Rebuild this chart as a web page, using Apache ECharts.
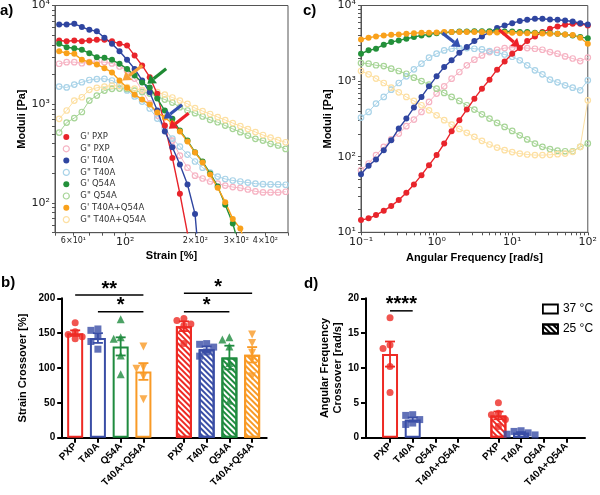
<!DOCTYPE html>
<html><head><meta charset="utf-8">
<script src="https://cdn.jsdelivr.net/npm/echarts@6/dist/echarts.min.js"></script>
<style>html,body{margin:0;padding:0;background:#fff}#c{width:600px;height:495px}</style>
</head><body><div id="c"></div>
<script>
// ---------- DATA ----------
// panel a: strain sweep
const strain = [52.1,56.1,60.5,65.2,70.2,75.6,81.5,87.8,94.6,101.9,109.8,118.3,127.5,137.4,148,159.5,171.8,185.2,199.5,215,231.6,249.6,268.9,289.7,312.2,336.4,362.4,390.5,420.8,453.4,488.5];
const aGp_PXP  = [4420,4350,4420,4350,4420,4490,4490,4350,4090,3930,3110,2470,1880,1275,608,286,124,49.3,20];
const aGpp_PXP = [2570,2670,2670,2600,2670,2670,2670,2590,2410,2200,1820,1380,1020,768,594,429,302,228,189,177,165,157,150,145,142,137,131,128,128,128,130];
const aGp_T40  = [6420,6420,6530,6060,5670,5490,4710,4090,3440,2820,2280,1740,1320,864,529,367,245,154,77.5,10];
const aGpp_T40 = [1510,1480,1580,1670,1760,1800,1810,1740,1580,1380,1200,1065,905,716,567,449,373,309,263,228,203,185,175,169,165,161,157,155,154,154,153];
const aGp_Q54  = [4090,3780,3690,3560,3290,2990,2950,2820,2570,2280,1950,1660,1480,1140,864,711,541,429,326,263,199,147,96,62,33];
const aGpp_Q54 = [517,652,725,834,1090,1225,1376,1432,1442,1426,1376,1329,1283,1197,1116,1040,932,864,811,751,695,657,608,563,521,482,446,429,397,382,353];
const aGp_MIX  = [3440,3290,3240,2820,2670,2530,2320,2100,1740,1470,1250,1120,993,824,733,638,529,419,324,257,194,143,102,69,55,33];
const aGpp_MIX = [711,864,1090,1177,1399,1466,1511,1547,1529,1494,1442,1393,1376,1329,1250,1170,1090,1010,915,853,796,742,692,645,601,561,523,488,460,434,412];
// panel c: frequency sweep
const freq = [0.1,0.126,0.158,0.2,0.251,0.316,0.398,0.501,0.631,0.794,1,1.26,1.58,2,2.51,3.16,3.98,5.01,6.31,7.94,10,12.6,15.8,20,25.1,31.6,39.8,50.1,63.1,79.4,100];
const cGp_PXP  = [14.5,15.3,16.9,19.3,22.2,26.7,33.4,43,57,77.3,105,149,217,304,420,586,795,1044,1416,1823,2302,2735,3382,3898,4446,4920,5283,5557,5729,5729,5445];
const cGpp_PXP = [66.4,81.3,105,135,169,202,253,310,391,530,683,853,1077,1319,1615,1918,2188,2422,2599,2735,2762,2762,2735,2680,2599,2422,2302,2123,1990,1840,2050];
const cGp_T40  = [58.8,75.8,91.9,122,165,236,319,446,617,853,1156,1535,1880,2373,2819,3382,3898,4446,5022,5445,5846,6214,6468,6668,6668,6534,6468,6339,6149,5846,5614];
const cGpp_T40 = [329,391,504,617,771,944,1156,1430,1699,2039,2302,2547,2680,2735,2735,2680,2626,2496,2370,2250,2100,1880,1615,1388,1228,1044,963,879,819,755,1024];
const cGp_Q54  = [2300,2550,2680,3030,3280,3450,3630,3820,4020,4140,4310,4360,4450,4540,4540,4580,4580,4580,4580,4540,4540,4450,4450,4360,4360,4310,4230,4140,4020,3820,3700];
const cGpp_Q54 = [1730,1700,1620,1580,1460,1360,1250,1110,1000,897,795,697,617,546,479,420,364,319,280,248,219,192,169,149,135,126,120,118,118,135,150];
const cGp_MIX  = [3560,3740,3900,4020,4100,4140,4230,4310,4360,4360,4400,4450,4450,4450,4450,4450,4450,4400,4400,4360,4360,4310,4310,4310,4270,4230,4230,4140,4060,3740,3120];
const cGpp_MIX = [1360,1230,1080,944,819,711,617,546,479,411,353,304,266,233,207,183,162,145,132,122,115,110,107,105,105,106,108,110,116,135,557];
const seriesNames = ["G' PXP","G\" PXP","G' T40A","G\" T40A","G' Q54A","G\" Q54A","G' T40A+Q54A","G\" T40A+Q54A"];
// tick labels
const strainTickValues = [60,100,200,300,400];
const strainTickLabels = ['6×10¹','10²','2×10²','3×10²','4×10²'];
// arrows [x0,y0,x1(tip),y1]
const arrowsA = [[118.6,2467,97.5,1739],[150,2284,124.5,1609],[175.5,986,146.6,711],[187.3,811,153.9,563]];
const arrowsC = [[1.196,4312,2.07,2818],[6.72,4779,12.6,2818]];
// panel b / d
const groups = ['PXP','T40A','Q54A','T40A+Q54A'];
const b37 = [150,143,131,95], b37sem = [4,7,13,12];
const b25 = [160,127,115,119], b25sem = [7,4,17,11];
const b37pts = [[165,152,148,145,142],[156,154,145,138,127],[170,144,142,118,91],[131,101,99,88,55]];
const b25pts = [[171,168,163,161,135],[135,134,130,123,117],[144,141,131,107,53],[148,136,122,112,88]];
const d37 = [12.0,2.6,null,null], d37sem = [1.8,0.3,null,null];
const d25 = [3.2,0.7,null,null], d25sem = [0.55,0.1,null,null];
const d37pts = [[17.2,13.3,12.8,10.2,6.5],[3.3,3.2,2.6,2.1,1.9],[],[]];
const d25pts = [[5.0,3.5,3.3,2.6,1.6],[1.0,0.9,0.7,0.5,0.4],[],[]];
const sigB = [[0,3,204.7,'**'],[1,3,180.8,'*'],[4,7,207.2,'*'],[4,6,180.8,'*']];
const sigD = [[0,1,18.2,'****']];
const tempNames = ['37 °C','25 °C'];

// ---------- LAYOUT / STYLE ----------
const slotX = [0,1,2,3,4.78,5.78,6.78,7.78];
const dark = ['#e8242b','#2f45a0','#23903a','#f9a11b'];
const light = ['#f6b3c3','#a9d3e8','#a7d597','#fde0a3'];
const barCol = ['#ee2a24','#3a4ea6','#1f8b3f','#f99a26'];
const SYM = ['circle','rect','triangle','triangle'];
const SUP = {'-':'⁻','0':'⁰','1':'¹','2':'²','3':'³','4':'⁴','5':'⁵','6':'⁶','7':'⁷','8':'⁸','9':'⁹'};
const pow10 = v => { const e = Math.round(Math.log10(v)); if (Math.abs(Math.log10(v)-e) > 0.01) return ''; return '10' + String(e).split('').map(c=>SUP[c]).join(''); };
function logTicks(lo, hi){ const t=[]; for(let e=-2;e<5;e++){ for(let m=1;m<10;m++){ const v=m*Math.pow(10,e); if(v>=lo*0.999&&v<=hi*1.001) t.push(+v.toPrecision(3)); } } return t; }
const axFont = {fontFamily:'DejaVu Sans', color:'#222'};
const nameStyle = {fontFamily:'Liberation Sans', fontWeight:'bold', fontSize:11, color:'#000'};

function mk(name, xs, ys, color, filled, gi){
  return {type:'line', name, xAxisIndex:gi, yAxisIndex:gi, data: ys.map((v,i)=>[xs[i],v]),
    symbol:'circle', symbolSize: filled?6:5.5, clip:true, silent:true,
    lineStyle:{color, width: filled?1.4:1},
    itemStyle: filled?{color}:{color:'rgba(255,255,255,0)', borderColor:color, borderWidth:1.2},
    z: filled?4:3};
}
const aSets = [[aGp_PXP,aGpp_PXP],[aGp_T40,aGpp_T40],[aGp_Q54,aGpp_Q54],[aGp_MIX,aGpp_MIX]];
const cSets = [[cGp_PXP,cGpp_PXP],[cGp_T40,cGpp_T40],[cGp_Q54,cGpp_Q54],[cGp_MIX,cGpp_MIX]];
const series = [];
[[aSets,strain,0],[cSets,freq,1]].forEach(([sets,xs,gi])=>{
  sets.forEach((s,k)=>series.push(mk(seriesNames[2*k+1], xs, s[1], light[k], false, gi)));
  sets.forEach((s,k)=>series.push(mk(seriesNames[2*k], xs, s[0], dark[k], true, gi)));
});

const hatch = c => ({symbol:'rect', symbolSize:1, dashArrayX:[1,0], dashArrayY:[1.5,1.7], rotation:Math.PI/4, color:c});
function swarm(vals, thr){ const placed=[]; const order=[0,-1,1,-2,2,-3,3];
  return vals.map(v=>{ const near=placed.filter(p=>Math.abs(p.v-v)<thr).map(p=>p.k); let k=0; for(const o of order){ if(!near.includes(o)){k=o;break;} } placed.push({v,k}); return k*7; }); }
function barPanel(gi, m37, s37, p37, m25, s25, p25, thr){
  const mkBars = (means, off, hatched) => means.map((v,g)=> v==null?null:{value:[slotX[g+off], v],
      itemStyle: hatched?{color:'#fff', borderColor:barCol[g], borderWidth:2, decal:hatch(barCol[g])}:{color:'#fff', borderColor:barCol[g], borderWidth:2}}).filter(x=>x);
  series.push({type:'bar', name:tempNames[0], xAxisIndex:gi, yAxisIndex:gi, barWidth:16, barGap:'-100%', data: mkBars(m37,0,false), z:2, silent:true});
  series.push({type:'bar', name:tempNames[1], xAxisIndex:gi, yAxisIndex:gi, barWidth:16, barGap:'-100%', data: mkBars(m25,4,true), z:2, silent:true});
  const err = [];
  [[m37,s37,0],[m25,s25,4]].forEach(([m,s,off])=>m.forEach((v,g)=>{ if(v!=null) err.push([slotX[g+off], v, s[g], g]); }));
  series.push({type:'custom', xAxisIndex:gi, yAxisIndex:gi, data: err, z:4, silent:true, clip:false,
    renderItem:(p,api)=>{ const x=api.value(0), m=api.value(1), s=api.value(2), col=barCol[api.value(3)];
      const t=api.coord([x,m+s]), b=api.coord([x,m-s]), hw=5, st={stroke:col, lineWidth:1.8};
      return {type:'group', children:[
        {type:'line', shape:{x1:t[0],y1:t[1],x2:b[0],y2:b[1]}, style:st},
        {type:'line', shape:{x1:t[0]-hw,y1:t[1],x2:t[0]+hw,y2:t[1]}, style:st},
        {type:'line', shape:{x1:b[0]-hw,y1:b[1],x2:b[0]+hw,y2:b[1]}, style:st}]}; }});
  const pts = [];
  [[p37,0],[p25,4]].forEach(([sets,off])=>sets.forEach((vals,g)=>{ const o=swarm(vals,thr);
    vals.forEach((v,k)=>pts.push({value:[slotX[g+off], v], symbol:SYM[g], symbolRotate:g===3?180:0,
      symbolSize: g>=2?8:7, symbolOffset:[o[k],0], itemStyle:{color:barCol[g]}})); }));
  series.push({type:'scatter', xAxisIndex:gi, yAxisIndex:gi, data: pts, z:5, silent:true});
}
barPanel(2, b37,b37sem,b37pts, b25,b25sem,b25pts, 10);
barPanel(3, d37,d37sem,d37pts, d25,d25sem,d25pts, 1.0);

const catFmt = v => { const i = slotX.findIndex(s=>Math.abs(s-v)<1e-3); return i<0?'':groups[i%4]; };
function barX(gi, min, max){ return {type:'value', gridIndex:gi, min, max, splitLine:{show:false},
  axisLine:{show:true, onZero:false, lineStyle:{color:'#000', width:2}},
  axisTick:{show:true, customValues:slotX, length:5, lineStyle:{color:'#000', width:2}},
  axisLabel:{customValues:slotX, formatter:catFmt, rotate:45, margin:7, fontFamily:'Liberation Sans', fontWeight:'bold', fontSize:10, color:'#000'}}; }
function barY(gi, max, interval, name, gap){ return {type:'value', gridIndex:gi, min:0, max, interval, splitLine:{show:false},
  axisLine:{show:true, onZero:false, lineStyle:{color:'#000', width:2}},
  axisTick:{show:true, length:5, lineStyle:{color:'#000', width:2}},
  axisLabel:{margin:7, fontFamily:'Liberation Sans', fontWeight:'bold', fontSize:10, color:'#000'},
  name, nameLocation:'middle', nameGap:gap, nameTextStyle:Object.assign({lineHeight:13}, nameStyle)}; }

const logLine = {show:true, onZero:false, lineStyle:{color:'#555', width:1}};
const option = {
  animation:false,
  grid:[
    {left:55, top:5, width:233, height:227.7, show:true, borderColor:'#555', borderWidth:1},
    {left:361, top:5, width:231, height:227.3, show:true, borderColor:'#555', borderWidth:1},
    {left:62.2, top:298.3, width:204.5, height:139.4},
    {left:366, top:298.3, width:219, height:139.4}],
  xAxis:[
    {type:'log', gridIndex:0, min:50, max:500, splitLine:{show:false}, axisLine:logLine,
      axisTick:{show:true, customValues:logTicks(50,500), length:3, lineStyle:{color:'#555'}},
      axisLabel:{customValues:strainTickValues, margin:4,
        formatter:v=>{ const i=strainTickValues.findIndex(t=>Math.abs(Math.log10(t/v))<0.01); if(i<0) return ''; return strainTickValues[i]===100?'{b|'+strainTickLabels[i]+'}':'{s|'+strainTickLabels[i]+'}'; },
        rich:{b:Object.assign({fontSize:11},axFont), s:Object.assign({fontSize:8},axFont)}},
      name:'Strain [%]', nameLocation:'middle', nameGap:18, nameTextStyle:nameStyle},
    {type:'log', gridIndex:1, min:0.1, max:100, splitLine:{show:false}, axisLine:logLine,
      axisTick:{show:true, customValues:logTicks(0.1,100), length:3, lineStyle:{color:'#555'}},
      axisLabel:Object.assign({customValues:[0.1,1,10,100], formatter:pow10, fontSize:11, margin:4}, axFont),
      name:'Angular Frequency [rad/s]', nameLocation:'middle', nameGap:20, nameTextStyle:nameStyle},
    barX(2, -0.57, 8.42), barX(3, -1.06, 8.6)],
  yAxis:[
    {type:'log', gridIndex:0, min:50, max:10000, splitLine:{show:false}, axisLine:logLine,
      axisTick:{show:true, customValues:logTicks(50,10000), length:3, lineStyle:{color:'#555'}},
      axisLabel:Object.assign({customValues:[100,1000,10000], formatter:pow10, fontSize:11, margin:5}, axFont),
      name:'Moduli [Pa]', nameLocation:'middle', nameGap:26, nameTextStyle:nameStyle},
    {type:'log', gridIndex:1, min:10, max:10000, splitLine:{show:false}, axisLine:logLine,
      axisTick:{show:true, customValues:logTicks(10,10000), length:3, lineStyle:{color:'#555'}},
      axisLabel:Object.assign({customValues:[10,100,1000,10000], formatter:pow10, fontSize:11, margin:5}, axFont),
      name:'Moduli [Pa]', nameLocation:'middle', nameGap:26, nameTextStyle:nameStyle},
    barY(2, 200, 50, 'Strain Crossover [%]', 33),
    barY(3, 20, 5, 'Angular Frequency\nCrossover [rad/s]', 16)],
  legend:[
    {left:62.7, top:132.5, padding:0, orient:'vertical', itemWidth:6, itemHeight:6, itemGap:2.8, icon:'circle', selectedMode:false,
      formatter:'{t|{name}}',
      textStyle:{fontFamily:'DejaVu Sans', fontSize:8.5, color:'#333', rich:{t:{fontFamily:'DejaVu Sans', fontSize:8.5, color:'#333', lineHeight:9, padding:[0,0,0,6]}}},
      data: seriesNames.map((n,i)=>({name:n, itemStyle: i%2===0?{color:dark[i>>1], borderWidth:0}:{color:'#fff', borderColor:light[i>>1], borderWidth:1.2}}))},
    {left:542, top:303, padding:0, orient:'vertical', itemWidth:15, itemHeight:9, itemGap:8, icon:'rect', selectedMode:false,
      textStyle:{fontFamily:'Liberation Sans', fontSize:12, color:'#000'},
      data:[{name:tempNames[0], itemStyle:{color:'#fff', borderColor:'#000', borderWidth:1.8}},
            {name:tempNames[1], itemStyle:{color:'#fff', borderColor:'#000', borderWidth:1.8, decal:hatch('#000')}}]}],
  series
};
const chart = echarts.init(document.getElementById('c'), null, {renderer:'canvas'});
chart.setOption(option);

// ---------- annotations via library coordinates ----------
const els = [];
const lab = (t,x,y)=>els.push({type:'text', x, y, z:100, style:{text:t, fontFamily:'Liberation Sans', fontWeight:'bold', fontSize:15, fill:'#000'}});
lab('a)',0,3); lab('c)',303,3); lab('b)',1,275); lab('d)',304,276);
function arrow(gi, a, color){
  const p0 = chart.convertToPixel({gridIndex:gi}, [a[0],a[1]]), p1 = chart.convertToPixel({gridIndex:gi}, [a[2],a[3]]);
  const dx=p1[0]-p0[0], dy=p1[1]-p0[1], L=Math.hypot(dx,dy), ux=dx/L, uy=dy/L, hl=8, hw=5.5;
  const bx=p1[0]-ux*hl, by=p1[1]-uy*hl;
  els.push({type:'line', z:100, shape:{x1:p0[0],y1:p0[1],x2:bx,y2:by}, style:{stroke:color, lineWidth:3.2}});
  els.push({type:'polygon', z:100, shape:{points:[[p1[0],p1[1]],[bx-uy*hw,by+ux*hw],[bx+uy*hw,by-ux*hw]]}, style:{fill:color}});
}
const arrowColA = ['#f7a13a', '#1f8a33', '#3350b0', '#ee2028'];
arrowsA.forEach((a,i)=>arrow(0,a,arrowColA[i]));
arrowsC.forEach((a,i)=>arrow(1,a,['#3350b0','#ee2028'][i]));
function sig(gi, s){
  const p1 = chart.convertToPixel({gridIndex:gi}, [slotX[s[0]], s[2]]), p2 = chart.convertToPixel({gridIndex:gi}, [slotX[s[1]], s[2]]);
  els.push({type:'line', z:100, shape:{x1:p1[0],y1:p1[1],x2:p2[0],y2:p2[1]}, style:{stroke:'#000', lineWidth:1.5}});
  els.push({type:'text', z:100, x:(p1[0]+p2[0])/2, y:p1[1]-6, style:{text:s[3], fontFamily:'Liberation Sans', fontWeight:'bold', fontSize:20, fill:'#000', align:'center', verticalAlign:'middle'}});
}
sigB.forEach(s=>sig(2,s)); sigD.forEach(s=>sig(3,s));
chart.setOption({graphic:{elements:els}});
</script></body></html>
